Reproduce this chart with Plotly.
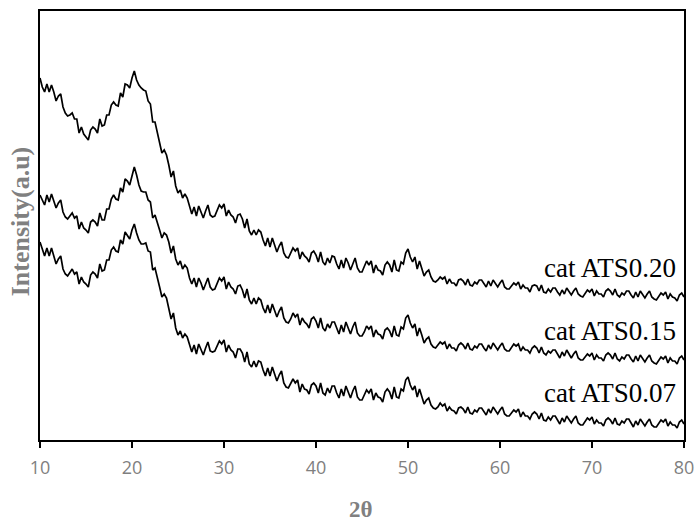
import numpy as np
import plotly.graph_objects as go

# 2-theta sampling (degrees), 0.25 step from 10 to 80
TWO_THETA = np.round(np.arange(10, 80.0001, 0.25), 2)

# Intensities (a.u.), one row of 4 values per degree
ATS020 = [
    361, 352, 347, 355,  347, 354, 347, 338,  343, 345, 332, 326,  323, 324, 326, 320,
    320, 306, 312, 305,  302, 299, 309, 312,  310, 306, 320, 313,  314, 324, 324, 334,
    337, 334, 333, 346,  342, 355, 354, 351,  361, 368, 359, 354,  351, 349, 348, 338,
    335, 317, 317, 306,  297, 286, 289, 284,  274, 262, 268, 253,  246, 249, 241, 245,
    241, 232, 225, 232,  223, 233, 227, 221,  228, 234, 224, 222,  223, 228, 234, 231,
    235, 223, 229, 224,  222, 216, 224, 225,  220, 211, 220, 208,  204, 209, 204, 209,
    207, 199, 193, 201,  192, 201, 195, 187,  193, 197, 186, 182,  181, 186, 191, 188,
    191, 180, 187, 183,  181, 177, 186, 188,  184, 177, 187, 177,  174, 181, 176, 183,
    182, 175, 170, 179,  171, 181, 176, 169,  176, 181, 171, 167,  167, 172, 178, 174,
    178, 166, 174, 169,  168, 164, 174, 177,  174, 167, 179, 169,  168, 177, 175, 186,
    190, 182, 177, 182,  170, 178, 171, 163,  167, 169, 162, 158,  157, 159, 162, 160,
    162, 155, 160, 156,  156, 153, 159, 160,  158, 154, 160, 154,  153, 157, 155, 159,
    159, 155, 152, 158,  153, 159, 156, 152,  156, 159, 152, 150,  150, 153, 156, 154,
    157, 150, 154, 151,  151, 147, 153, 154,  153, 148, 154, 147,  146, 150, 147, 151,
    151, 147, 144, 149,  145, 151, 148, 144,  148, 151, 145, 143,  142, 145, 149, 147,
    150, 143, 148, 145,  145, 142, 148, 150,  148, 144, 150, 144,  142, 146, 144, 148,
    148, 144, 141, 147,  142, 148, 145, 141,  145, 148, 142, 140,  139, 142, 146, 144,
    147, 140, 145, 142,  141, 138, 144, 146,
    142,
]

ATS015 = [
    244, 238, 234, 244,  237, 245, 239, 231,  236, 239, 227, 222,  220, 223, 226, 221,
    223, 210, 217, 211,  209, 206, 217, 219,  217, 213, 226, 219,  219, 230, 230, 240,
    244, 240, 239, 251,  247, 260, 258, 254,  264, 272, 264, 254,  248, 247, 247, 239,
    237, 221, 224, 215,  209, 201, 206, 204,  197, 186, 193, 180,  174, 178, 170, 174,
    171, 161, 155, 161,  152, 161, 156, 149,  155, 161, 152, 149,  150, 155, 161, 158,
    162, 150, 157, 152,  150, 145, 153, 154,  149, 141, 150, 139,  135, 141, 135, 141,
    139, 131, 126, 134,  126, 135, 129, 122,  128, 132, 121, 117,  116, 120, 126, 122,
    125, 114, 121, 117,  115, 111, 120, 122,  118, 111, 121, 111,  108, 115, 111, 117,
    117, 110, 105, 114,  107, 117, 111, 105,  112, 117, 106, 103,  103, 107, 113, 110,
    113, 102, 109, 105,  104, 100, 109, 111,  108, 102, 113, 104,  103, 112, 110, 121,
    124, 116, 111, 115,  103, 111, 104, 96,   100, 102, 95, 92,    91, 94, 97, 95,
    97, 90, 95, 91,      91, 88, 94, 96,      94, 90, 96, 90,      89, 93, 91, 95,
    95, 91, 88, 94,      90, 96, 93, 89,      93, 96, 90, 88,      88, 91, 95, 93,
    95, 88, 92, 89,      89, 86, 91, 93,      91, 86, 92, 86,      84, 88, 86, 89,
    89, 85, 81, 87,      83, 89, 85, 81,      85, 88, 81, 79,      79, 82, 85, 83,
    86, 79, 84, 81,      81, 78, 84, 86,      84, 80, 86, 80,      78, 82, 80, 84,
    84, 80, 77, 83,      78, 84, 81, 77,      81, 84, 78, 76,      75, 78, 82, 80,
    83, 76, 81, 78,      78, 75, 81, 83,
    79,
]

ATS007 = [
    197, 189, 183, 191,  183, 191, 183, 175,  180, 183, 170, 165,  163, 166, 170, 165,
    167, 155, 162, 157,  155, 152, 164, 167,  165, 161, 175, 168,  169, 179, 179, 189,
    192, 188, 187, 199,  195, 207, 204, 200,  209, 215, 206, 199,  195, 195, 196, 188,
    187, 169, 171, 160,  152, 142, 145, 141,  132, 120, 126, 111,  104, 108, 101, 105,
    102, 93, 87, 94,     85, 95, 90, 84,      91, 97, 88, 87,      88, 93, 98, 95,
    99, 87, 94, 89,      87, 81, 90, 90,      86, 77, 87, 75,      72, 78, 72, 78,
    77, 69, 63, 71,      63, 72, 65, 58,      64, 68, 56, 52,      51, 55, 60, 56,
    59, 47, 55, 50,      49, 45, 54, 56,      53, 46, 56, 46,      44, 51, 46, 53,
    53, 46, 41, 50,      43, 53, 47, 41,      48, 53, 42, 39,      39, 44, 49, 46,
    50, 39, 46, 42,      41, 37, 47, 50,      47, 40, 52, 42,      41, 50, 48, 59,
    62, 54, 49, 53,      42, 50, 43, 35,      39, 41, 34, 31,      30, 32, 36, 33,
    35, 28, 32, 29,      28, 25, 31, 32,      30, 26, 32, 26,      25, 29, 27, 31,
    31, 27, 24, 30,      26, 32, 29, 25,      29, 32, 25, 23,      23, 26, 29, 27,
    30, 22, 27, 23,      23, 20, 25, 27,      25, 20, 26, 19,      18, 22, 19, 23,
    23, 19, 15, 21,      17, 23, 20, 16,      20, 23, 16, 14,      14, 17, 21, 19,
    22, 15, 19, 16,      16, 13, 19, 21,      19, 15, 21, 15,      14, 18, 16, 20,
    20, 16, 12, 18,      14, 20, 17, 13,      17, 20, 14, 12,      12, 15, 19, 17,
    20, 13, 17, 14,      14, 11, 17, 19,
    15,
]

SERIES_NAMES = ["cat ATS0.20", "cat ATS0.15", "cat ATS0.07"]
LABEL_Y = [171, 108, 46]
X_TICKS = [10, 20, 30, 40, 50, 60, 70, 80]

fig = go.Figure()
for name, vals in zip(SERIES_NAMES, [ATS020, ATS015, ATS007]):
    fig.add_trace(go.Scatter(
        x=TWO_THETA, y=vals, mode="lines", name=name,
        line=dict(color="black", width=1.7), showlegend=False,
    ))

for name, ly in zip(SERIES_NAMES, LABEL_Y):
    fig.add_annotation(
        x=79.4, y=ly, xref="x", yref="y", text=name, showarrow=False,
        xanchor="right", yanchor="middle",
        font=dict(family="Liberation Serif, Times New Roman, serif", size=27, color="black"),
    )

fig.add_annotation(
    x=0.498, y=-0.163, xref="paper", yref="paper", text="<b>2θ</b>", showarrow=False,
    xanchor="center", yanchor="middle",
    font=dict(family="Liberation Serif, Times New Roman, serif", size=23, color="#808080"),
)
fig.add_annotation(
    x=-0.031, y=0.51, xref="paper", yref="paper", text="<b>Intensity(a.u)</b>", showarrow=False,
    xanchor="center", yanchor="middle", textangle=-90,
    font=dict(family="Liberation Serif, Times New Roman, serif", size=26, color="#808080"),
)

fig.update_layout(
    width=699, height=522,
    margin=dict(l=40, r=15, t=11, b=82, autoexpand=False),
    paper_bgcolor="white", plot_bgcolor="white",
    xaxis=dict(
        range=[10, 80], tickvals=X_TICKS, ticks="outside", ticklen=6, tickwidth=2,
        tickcolor="black", showline=True, linecolor="black", linewidth=2, mirror=True,
        showgrid=False, zeroline=False, automargin=False, ticklabelstandoff=4,
        tickfont=dict(family="Open Sans, sans-serif", size=18, color="#7f7f7f"),
    ),
    yaxis=dict(
        range=[-1, 428], showticklabels=False, ticks="", showline=True, automargin=False,
        linecolor="black", linewidth=2, mirror=True, showgrid=False, zeroline=False,
    ),
)

fig.write_html("out.html")
